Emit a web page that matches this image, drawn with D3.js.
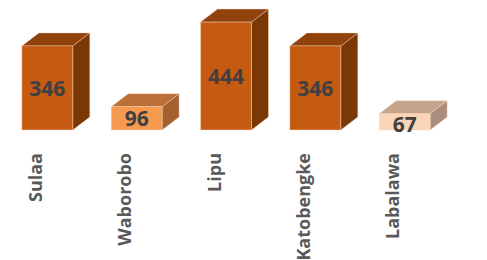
<!DOCTYPE html>
<html>
<head>
<meta charset="utf-8">
<script src="https://cdn.jsdelivr.net/npm/d3@7"></script>
<style>
    body { margin: 0; background: #ffffff; }
    svg { display: block; }
</style>
</head>
<body>
<script>

// Chart data
var categories = ["Sulaa", "Waborobo", "Lipu", "Katobengke", "Labalawa"];
var values = [346, 96, 444, 346, 67];

// Face colours per bar: front, top, side
var frontColors = ["#C55A11", "#F59A4F", "#C55A11", "#C55A11", "#FBD5B7"];
var topColors = ["#8F420C", "#BC6F38", "#8F420C", "#8F420C", "#C4A48B"];
var sideColors = ["#7A3806", "#A4602F", "#7A3806", "#7A3806", "#AA8D7B"];

/*
 * Draws a 3D style column chart
 */

function columnChart() {

    var svgWidth = 487;
    var svgHeight = 260;

    // depth of the 3D effect
    var depthX = 17;
    var depthY = 13;

    const svg = d3.select("body").append("svg")
        .attr("width", svgWidth)
        .attr("height", svgHeight);

    const xScale = d3.scaleBand()
        .domain(categories)
        .range([4, 448])
        .paddingInner(0.43)
        .paddingOuter(0.2);

    const yScale = d3.scaleLinear()
        .domain([0, 500])
        .range([130, 8.5]);

    var data = categories.map(function(name, i) {
        return {name: name, value: values[i], index: i};
    });

    var bars = svg.selectAll(".bar")
        .data(data)
        .enter()
        .append("g")
        .attr("class", "bar");

    var edge = "rgba(250, 215, 190, 0.7)";

    // side face
    bars.append("polygon")
        .attr("points", function(d) {
            var x1 = xScale(d.name) + xScale.bandwidth();
            var yTop = yScale(d.value);
            var yBot = yScale(0);
            return [[x1, yTop], [x1 + depthX, yTop - depthY],
                    [x1 + depthX, yBot - depthY], [x1, yBot]].join(" ");
        })
        .attr("fill", function(d) { return sideColors[d.index]; })
        .attr("stroke", edge)
        .attr("stroke-width", 0.6);

    // top face
    bars.append("polygon")
        .attr("points", function(d) {
            var x0 = xScale(d.name);
            var x1 = x0 + xScale.bandwidth();
            var yTop = yScale(d.value);
            return [[x0, yTop], [x0 + depthX, yTop - depthY],
                    [x1 + depthX, yTop - depthY], [x1, yTop]].join(" ");
        })
        .attr("fill", function(d) { return topColors[d.index]; })
        .attr("stroke", edge)
        .attr("stroke-width", 0.6);

    // front face
    bars.append("rect")
        .attr("x", function(d) { return xScale(d.name); })
        .attr("y", function(d) { return yScale(d.value); })
        .attr("width", xScale.bandwidth())
        .attr("height", function(d) { return yScale(0) - yScale(d.value); })
        .attr("fill", function(d) { return frontColors[d.index]; })
        .attr("stroke", edge)
        .attr("stroke-width", 0.6);

    // value labels
    bars.append("text")
        .attr("x", function(d) { return xScale(d.name) + xScale.bandwidth() / 2; })
        .attr("y", function(d) {
            var yTop = yScale(d.value);
            var mid = (yTop + yScale(0)) / 2;
            return Math.max(mid, yTop + 10) + 8;
        })
        .attr("text-anchor", "middle")
        .attr("font-family", "'Open Sans', sans-serif")
        .attr("font-weight", "bold")
        .attr("font-size", "21px")
        .attr("fill", "#404040")
        .text(function(d) { return d.value; });

    // category labels, rotated
    svg.selectAll(".cat")
        .data(data)
        .enter()
        .append("text")
        .attr("class", "cat")
        .attr("transform", function(d) {
            return `translate(${xScale(d.name) + 20}, 153) rotate(-90)`;
        })
        .attr("text-anchor", "end")
        .attr("font-family", "'Open Sans', sans-serif")
        .attr("font-weight", "bold")
        .attr("font-size", "18px")
        .attr("fill", "#595959")
        .text(function(d) { return d.name; });
};

columnChart();

</script>
</body>
</html>
